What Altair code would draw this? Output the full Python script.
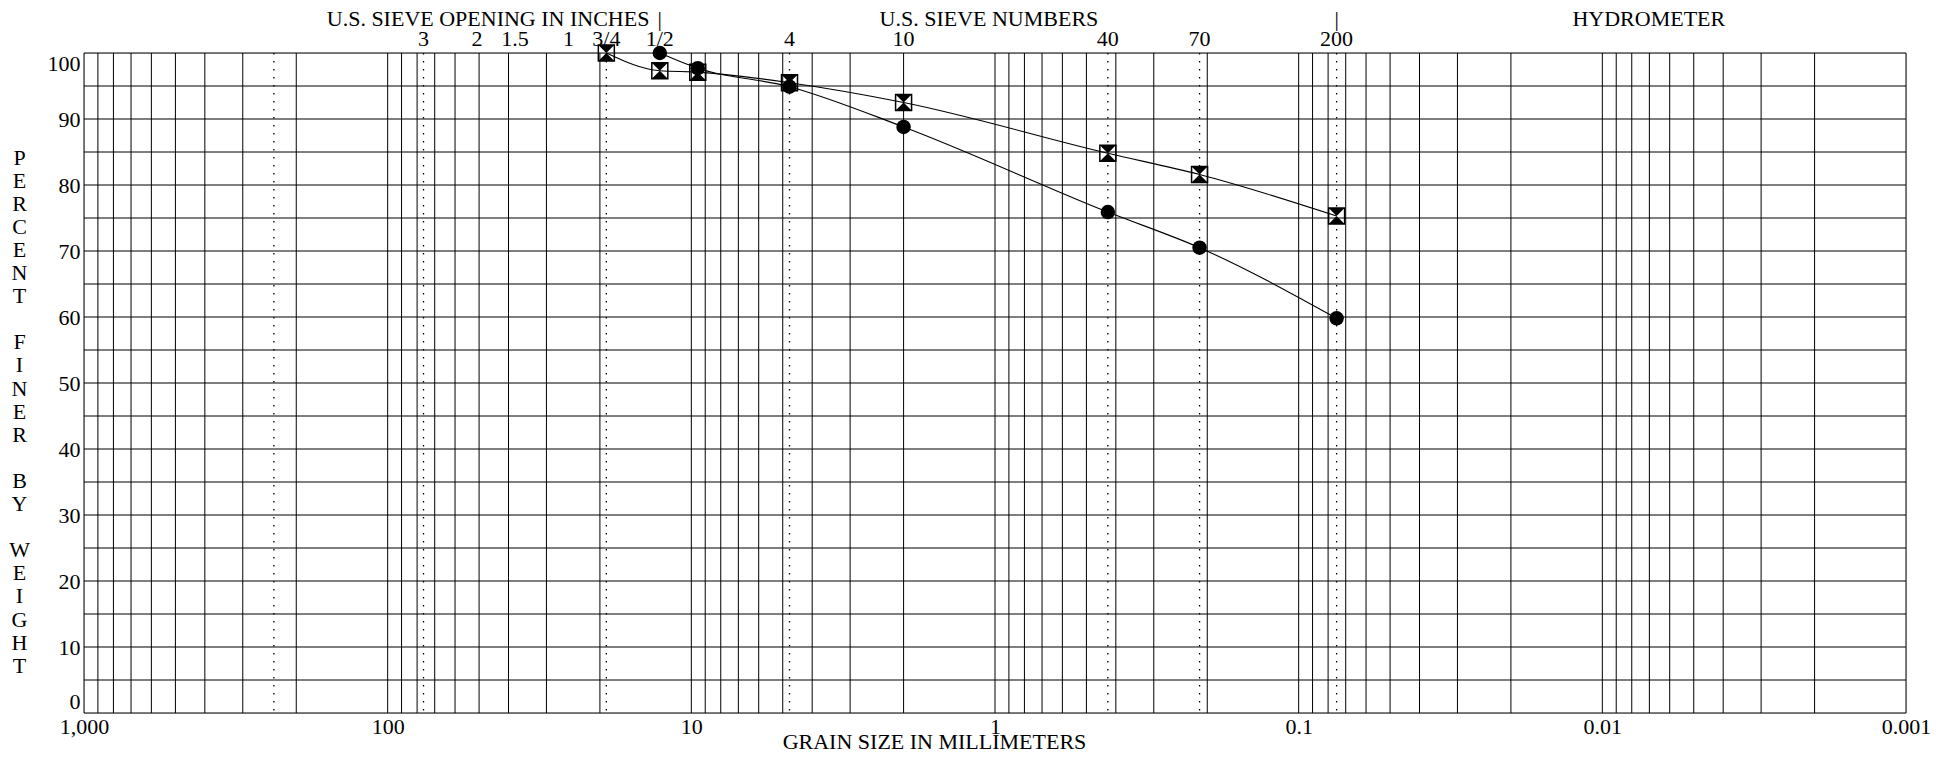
import altair as alt
import pandas as pd

FONT = "Liberation Serif"
FS = 22

# ---- data ----
circle_mm = [12.7, 9.525, 4.75, 2.0, 0.425, 0.212, 0.075]
circle_pct = [100.0, 97.7, 94.9, 88.8, 75.9, 70.5, 59.8]
hour_mm = [19.05, 12.7, 9.525, 4.75, 2.0, 0.425, 0.212, 0.075]
hour_pct = [100.0, 97.3, 97.1, 95.5, 92.5, 84.8, 81.6, 75.3]

x_ticks = [1000, 100, 10, 1, 0.1, 0.01, 0.001]
y_ticks = [0, 10, 20, 30, 40, 50, 60, 70, 80, 90, 100]
grid_y = [0, 5, 10, 15, 20, 25, 30, 35, 40, 45, 50, 55, 60, 65, 70, 75, 80, 85, 90, 95, 100]
grid_x = [1000, 900, 800, 700, 600, 500, 400, 300, 200,
          100, 90, 80, 70, 60, 50, 40, 30, 20,
          10, 9, 8, 7, 6, 5, 4, 3, 2,
          1, 0.9, 0.8, 0.7, 0.6, 0.5, 0.4, 0.3, 0.2,
          0.1, 0.09, 0.08, 0.07, 0.06, 0.05, 0.04, 0.03, 0.02,
          0.01, 0.009, 0.008, 0.007, 0.006, 0.005, 0.004, 0.003, 0.002, 0.001]
dotted_x = [237, 76.2, 19.05, 4.75, 0.425, 0.212, 0.075]

inch_labels = ["3", "2", "1.5", "1", "3/4", "1/2"]
inch_mm = [76.2, 50.8, 38.1, 25.4, 19.05, 12.7]
num_labels = ["4", "10", "40", "70", "200"]
num_mm = [4.75, 2.0, 0.425, 0.212, 0.075]
header_labels = ["U.S. SIEVE OPENING IN INCHES", "|", "U.S. SIEVE NUMBERS", "|", "HYDROMETER"]
header_mm = [46.7, 12.7, 1.047, 0.075, 0.00703]

BLANK = "\u200b"
y_title = list("PERCENT") + [BLANK] + list("FINER") + [BLANK] + list("BY") + [BLANK] + list("WEIGHT")

# ---- tables ----
series_df = pd.concat([
    pd.DataFrame({"mm": circle_mm, "pct": circle_pct, "series": "circle"}),
    pd.DataFrame({"mm": hour_mm, "pct": hour_pct, "series": "hour"}),
])
circ_df = pd.DataFrame({"mm": circle_mm, "pct": circle_pct})
hour_df = pd.DataFrame({"mm": hour_mm, "pct": hour_pct})
gx_df = pd.DataFrame({"mm": grid_x})
gy_df = pd.DataFrame({"pct": grid_y})
dot_df = pd.DataFrame({"mm": dotted_x})
row2_df = pd.DataFrame({"mm": inch_mm + num_mm, "label": inch_labels + num_labels})
row1_df = pd.DataFrame({"mm": header_mm, "label": header_labels})

xs = alt.Scale(type="log", domain=[0.001, 1000], reverse=True, nice=False)
ys = alt.Scale(domain=[0, 100], nice=False, zero=False)

x_axis = alt.Axis(values=x_ticks, format=",", labelFont=FONT, labelFontSize=FS,
                  labelColor="black", ticks=False, domain=False, grid=False,
                  labelPadding=3, labelFlush=False, labelOverlap=False,
                  title="GRAIN SIZE IN MILLIMETERS", titleFont=FONT, titleFontSize=FS,
                  titleFontWeight="normal", titleColor="black", titleX=850, titleY=35,
                  titleAlign="center", titleBaseline="alphabetic")
y_axis = alt.Axis(values=y_ticks, labelFont=FONT, labelFontSize=FS, labelColor="black",
                  ticks=False, domain=False, grid=False, labelFlush=True, labelPadding=4,
                  title=y_title, titleAngle=0, titleX=-65, titleY=111, titleAlign="center",
                  titleBaseline="alphabetic", titleLineHeight=23.1, titleFont=FONT,
                  titleFontSize=FS, titleFontWeight="normal", titleColor="black")


def X():
    return alt.X("mm:Q", scale=xs, axis=x_axis)


def Y():
    return alt.Y("pct:Q", scale=ys, axis=y_axis)


vgrid = alt.Chart(gx_df).mark_rule(color="black", strokeWidth=1).encode(x=X())
hgrid = alt.Chart(gy_df).mark_rule(color="black", strokeWidth=1).encode(y=Y())
dots = alt.Chart(dot_df).mark_rule(color="black", strokeWidth=1.3,
                                   strokeDash=[1.5, 6.5]).encode(x=X())

lines = alt.Chart(series_df).mark_line(interpolate="monotone", color="black",
                                       strokeWidth=1.1).encode(
    x=X(), y=Y(), detail="series:N")

sq = alt.Chart(hour_df).mark_point(shape="square", filled=False, size=256, stroke="black",
                                   strokeWidth=1.5, opacity=1).encode(x=X(), y=Y())
hg = alt.Chart(hour_df).mark_point(shape="M-1,-1L1,-1L-1,1L1,1Z", filled=True, size=256,
                                   color="black", opacity=1, strokeWidth=0).encode(x=X(), y=Y())
circ = alt.Chart(circ_df).mark_point(shape="circle", filled=True, size=210, color="black",
                                     opacity=1).encode(x=X(), y=Y())

row1 = alt.Chart(row1_df).mark_text(font=FONT, fontSize=FS, color="black", align="center",
                                    baseline="alphabetic").encode(
    x=X(), y=alt.value(-27), text="label:N")
row2 = alt.Chart(row2_df).mark_text(font=FONT, fontSize=FS, color="black", align="center",
                                    baseline="alphabetic").encode(
    x=X(), y=alt.value(-7), text="label:N")

chart = alt.layer(vgrid, hgrid, dots, lines, sq, hg, circ, row1, row2).properties(
    width=1822, height=660,
    autosize=alt.AutoSizeParams(type="none"),
    padding={"left": 76, "top": 45, "right": 30, "bottom": 36},
).configure_view(stroke="black", strokeWidth=1.2).configure(background="white")

chart.save("out.html", embed_options={"renderer": "svg", "actions": False})
